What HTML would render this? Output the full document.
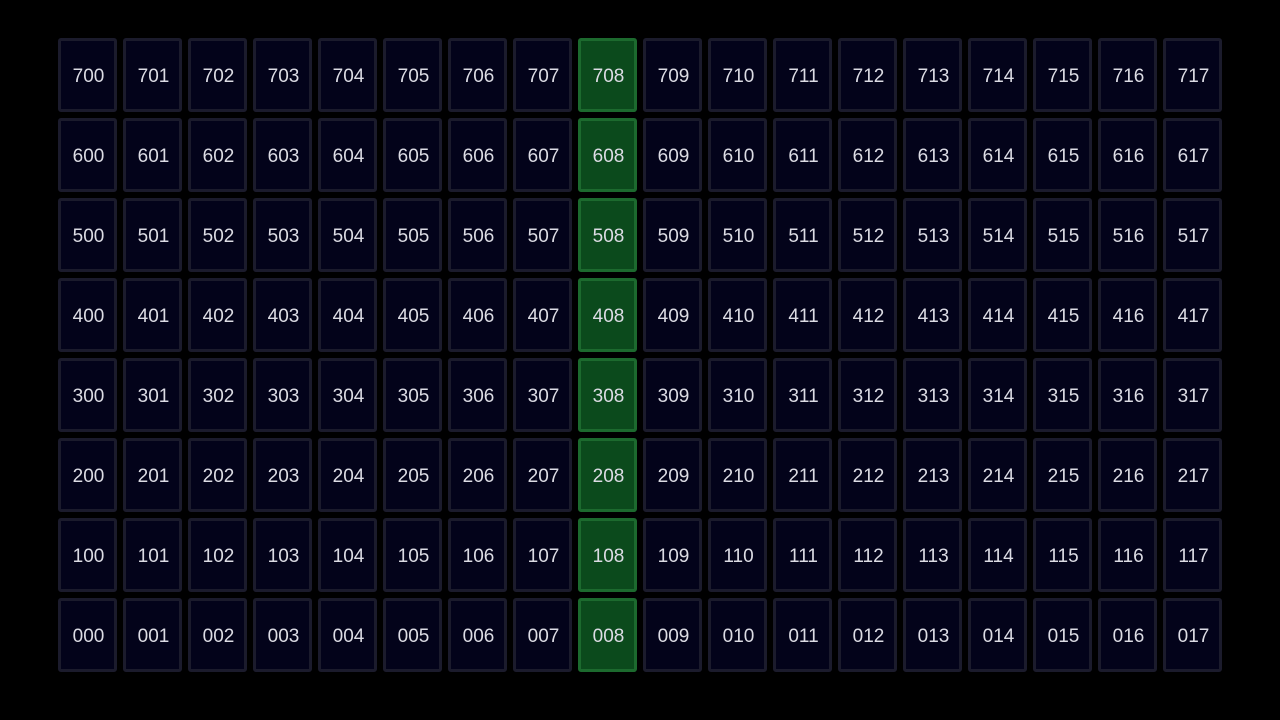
<!DOCTYPE html>
<html><head><meta charset="utf-8"><style>
html,body{margin:0;padding:0;background:#000;width:1280px;height:720px;overflow:hidden}
.c{position:absolute;width:59px;height:74px;box-sizing:border-box;border:3px solid #1b1b2c;border-radius:3px;background:#03031a;color:#dcdce4;font:19px "Liberation Sans",sans-serif;display:flex;align-items:center;justify-content:center;padding-top:4px;padding-left:2px}
.c.g{background:#0b4a1c;border-color:#1c6a2e}
</style></head><body>
<div id="grid"></div>
<script>
const rows=[7,6,5,4,3,2,1,0];
const cols=[0,1,2,3,4,5,6,7,8,9,10,11,12,13,14,15,16,17];
const highlightCol=8;
const g=document.getElementById('grid');
rows.forEach((r,j)=>cols.forEach((c,i)=>{
  const d=document.createElement('div');
  d.className='c'+(c===highlightCol?' g':'');
  d.style.left=(58+65*i)+'px';d.style.top=(38+80*j)+'px';
  d.textContent=String(r)+String(c).padStart(2,'0');
  
  
  g.appendChild(d);
}));
</script>
</body></html>
